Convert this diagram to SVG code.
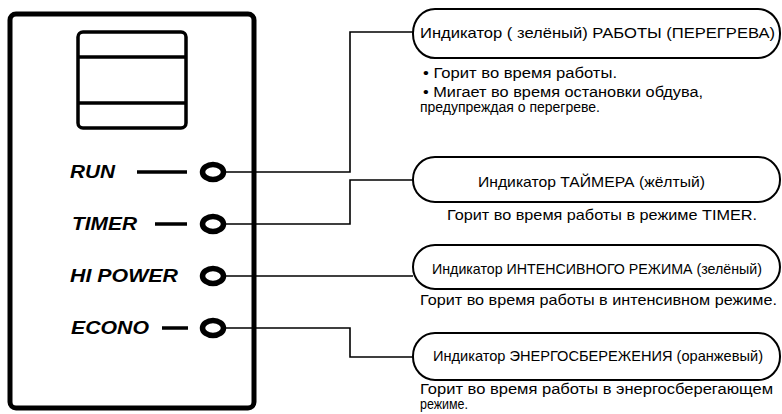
<svg xmlns="http://www.w3.org/2000/svg" width="782" height="414" viewBox="0 0 782 414">
<style>
.panel{fill:none;stroke:#000;stroke-width:5}
.disp{fill:none;stroke:#000;stroke-width:3.5}
.led{fill:#fff;stroke:#000;stroke-width:5.5}
.dash{stroke:#000;stroke-width:3.5}
.lbl{font-family:"Liberation Sans",Arial,sans-serif;font-weight:bold;font-style:italic;font-size:18px;fill:#000}
.conn{fill:none;stroke:#000;stroke-width:1.6}
.box{fill:#fff;stroke:#000;stroke-width:2}
.t{font-family:"Liberation Sans",Arial,sans-serif;font-size:15px;fill:#000}
.s{font-family:"Liberation Sans",Arial,sans-serif;font-size:14px;fill:#000}
</style>
<rect width="782" height="414" fill="#fff"/>
<g id="panel">
<rect class="panel" x="10" y="14" width="244" height="394" rx="6"/>
<rect class="disp" x="78" y="32" width="108" height="96" rx="5"/>
<line class="disp" x1="78" y1="57" x2="186" y2="57"/>
<line class="disp" x1="78" y1="103" x2="186" y2="103"/>
</g>
<g id="connectors">
<path class="conn" d="M225,172 H350 V32 H413"/>
<path class="conn" d="M225,224 H350 V180 H413"/>
<path class="conn" d="M225,276 H413"/>
<path class="conn" d="M225,328 H350 V357 H413"/>
</g>
<g id="led-run">
<text class="lbl" x="70" y="178" textLength="45" lengthAdjust="spacingAndGlyphs">RUN</text>
<line class="dash" x1="137" y1="172" x2="187" y2="172"/>
<ellipse class="led" cx="213" cy="172" rx="10.5" ry="7.5"/>
</g>
<g id="led-timer">
<text class="lbl" x="72" y="230" textLength="65" lengthAdjust="spacingAndGlyphs">TIMER</text>
<line class="dash" x1="155" y1="224" x2="187" y2="224"/>
<ellipse class="led" cx="213" cy="224" rx="10.5" ry="7.5"/>
</g>
<g id="led-hipower">
<text class="lbl" x="70" y="282" textLength="108" lengthAdjust="spacingAndGlyphs">HI POWER</text>
<ellipse class="led" cx="213" cy="276" rx="10.5" ry="7.5"/>
</g>
<g id="led-econo">
<text class="lbl" x="71" y="334" textLength="78" lengthAdjust="spacingAndGlyphs">ECONO</text>
<line class="dash" x1="162" y1="328" x2="188" y2="328"/>
<ellipse class="led" cx="213" cy="328" rx="10.5" ry="7.5"/>
</g>
<g id="box-run">
<rect class="box" x="413" y="9" width="367" height="49" rx="22" ry="24"/>
<text class="t" x="420" y="38" textLength="355" lengthAdjust="spacingAndGlyphs">Индикатор ( зелёный) РАБОТЫ (ПЕРЕГРЕВА)</text>
<text class="s" x="423" y="78" textLength="194" lengthAdjust="spacingAndGlyphs">• Горит во время работы.</text>
<text class="s" x="423" y="97" textLength="280" lengthAdjust="spacingAndGlyphs">• Мигает во время остановки обдува,</text>
<text class="s" x="420" y="112" textLength="180" lengthAdjust="spacingAndGlyphs">предупреждая о перегреве.</text>
</g>
<g id="box-timer">
<rect class="box" x="413" y="157" width="367" height="45" rx="22" ry="22"/>
<text class="t" x="478" y="187" textLength="227" lengthAdjust="spacingAndGlyphs">Индикатор ТАЙМЕРА (жёлтый)</text>
<text class="t" x="447" y="220" textLength="310" lengthAdjust="spacingAndGlyphs">Горит во время работы в режиме TIMER.</text>
</g>
<g id="box-hipower">
<rect class="box" x="413" y="245" width="367" height="44" rx="22" ry="22"/>
<text class="t" x="432" y="274" textLength="330" lengthAdjust="spacingAndGlyphs">Индикатор ИНТЕНСИВНОГО РЕЖИМА (зелёный)</text>
<text class="t" x="420" y="305" textLength="357" lengthAdjust="spacingAndGlyphs">Горит во время работы в интенсивном режиме.</text>
</g>
<g id="box-econo">
<rect class="box" x="413" y="333" width="367" height="47" rx="22" ry="23"/>
<text class="t" x="433" y="361" textLength="330" lengthAdjust="spacingAndGlyphs">Индикатор ЭНЕРГОСБЕРЕЖЕНИЯ (оранжевый)</text>
<text class="s" x="420" y="394" textLength="353" lengthAdjust="spacingAndGlyphs">Горит во время работы в энергосберегающем</text>
<text class="s" x="420" y="409" textLength="48" lengthAdjust="spacingAndGlyphs">режиме.</text>
</g>
</svg>
